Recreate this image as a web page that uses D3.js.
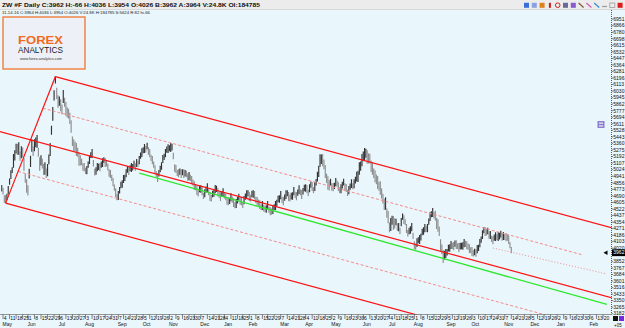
<!DOCTYPE html>
<html lang="en">
<head>
<meta charset="UTF-8">
<title>ZW #F Daily</title>
<script src="https://d3js.org/d3.v7.min.js"></script>
<style>
  body { margin: 0; background: #e9f6fc; font-family: "Liberation Sans", Arial, sans-serif; }
  svg { display: block; }
</style>
</head>
<body>
<div id="container"></div>
<script>
// ---- data ----
const headerLine1 = "ZW #F Daily C:3962 H:-66 H:4036 L:3954 O:4026 B:3962 A:3964 V:24.8K OI:184785";
const headerLine2 = "11-14-16 C:3964 H:4036 L:3954 O:4026 V:24.8K H:184785 S:5624 R:82 hi-66";

const firstBarDate = "2015-05-01";
const lastAxisDate = "2017-02-24";
const holidays = ["2015-05-25", "2015-07-03", "2015-09-07", "2015-11-26", "2015-12-25", "2016-01-01",
  "2016-01-18", "2016-02-15", "2016-03-25", "2016-05-30", "2016-07-04", "2016-09-05"];

// daily highs / lows, 01 May 2015 .. 14 Nov 2016
const barHigh = [
  4829,4793,4697,4701,4717,4814,4911,5016,5055,5223,
  5272,5355,5356,5375,5257,5325,5307,5174,4972,4903,
  4824,5036,5203,5414,5320,5414,5435,5468,5305,5184,
  5208,5164,5100,5120,5039,5095,5218,5365,5586,5824,
  6039,6215,6072,5977,5960,5926,5857,6043,5944,5888,
  5822,5803,5753,5657,5448,5414,5384,5365,5305,5248,
  5208,5164,5106,5110,5050,5070,5129,5208,5247,5287,
  5149,5036,5055,5110,5101,5108,5129,5169,5183,5172,
  5149,5100,5029,5021,4960,4916,4834,4785,4709,4750,
  4804,4870,4888,4957,4960,5031,5065,5067,5080,5108,
  5098,5139,5106,5162,5139,5198,5244,5297,5310,5351,
  5328,5369,5310,5289,5216,5198,5129,5080,5004,4980,
  5021,5075,5119,5213,5229,5287,5320,5348,5336,5364,
  5354,5241,5093,5085,5024,5031,5039,5029,5029,5031,
  5021,5011,4978,4995,4960,4942,4898,4875,4837,4814,
  4765,4819,4824,4803,4730,4775,4809,4849,4773,4737,
  4702,4755,4773,4829,4819,4788,4745,4734,4748,4788,
  4740,4717,4671,4675,4666,4724,4681,4658,4607,4648,
  4676,4717,4671,4675,4615,4686,4719,4760,4760,4737,
  4702,4755,4760,4752,4679,4673,4643,4632,4581,4622,
  4574,4563,4569,4624,4551,4545,4528,4568,4581,4622,
  4638,4691,4697,4752,4679,4673,4707,4760,4760,4737,
  4702,4729,4735,4803,4743,4737,4770,4824,4773,4763,
  4791,4832,4837,4829,4768,4839,4873,4862,4799,4865,
  4906,4997,5075,5222,5218,5223,5154,5084,4972,4941,
  4888,4908,4850,4854,4858,4916,4886,4862,4799,4839,
  4868,4908,4850,4842,4768,4814,4847,4901,4850,4903,
  4932,4997,5011,5120,5129,5223,5256,5302,5292,5274,
  5233,5228,5139,5120,5039,5018,4962,4943,4870,4877,
  4785,4716,4653,4672,4528,4494,4348,4406,4435,4430,
  4402,4397,4338,4343,4282,4405,4464,4440,4390,4328,
  4254,4282,4300,4343,4218,4110,4080,4146,4159,4187,
  4203,4269,4287,4330,4308,4328,4400,4479,4492,4533,
  4484,4499,4410,4391,4297,4135,4066,3997,3987,4008,
  4011,4064,4070,4113,4090,4098,4118,4120,4083,4085,
  4088,4090,4095,4138,4116,4110,4080,4069,4031,4034,
  3998,4013,4006,4061,4065,4136,4169,4248,4287,4290,
  4267,4282,4236,4241,4180,4174,4195,4223,4198,4226,
  4216,4243,4211,4228,4206,4213,4195,4184,4095,4036
];
const barLow = [
  4744,4708,4602,4596,4637,4709,4831,4906,4980,5048,
  5142,5230,5211,5215,5137,5170,5182,5009,4857,4728,
  4694,4911,5058,5254,5200,5259,5310,5303,5190,5009,
  5078,5039,4955,4960,4919,4940,5093,5200,5471,5649,
  5909,6126,5927,5817,5840,5771,5732,5878,5829,5713,
  5692,5678,5608,5497,5328,5259,5259,5200,5190,5073,
  5078,5079,5011,5005,4970,4965,5049,5098,5172,5172,
  5064,4951,4960,5005,5021,5003,5049,5059,5108,5057,
  5064,5015,4934,4916,4880,4811,4754,4675,4634,4635,
  4719,4785,4793,4852,4880,4926,4985,4957,5005,4993,
  5013,5054,5011,5057,5059,5093,5164,5187,5235,5236,
  5243,5284,5215,5184,5136,5093,5049,4970,4929,4865,
  4936,4990,5024,5108,5149,5182,5240,5238,5261,5249,
  5269,5156,4998,4980,4944,4926,4959,4919,4954,4916,
  4936,4926,4883,4890,4880,4837,4818,4765,4762,4699,
  4680,4734,4729,4698,4650,4670,4729,4739,4698,4622,
  4617,4670,4678,4724,4739,4683,4665,4624,4673,4673,
  4655,4632,4576,4570,4586,4619,4601,4548,4532,4533,
  4591,4632,4576,4570,4535,4581,4639,4650,4685,4622,
  4617,4670,4665,4647,4599,4568,4563,4522,4506,4507,
  4489,4478,4474,4519,4471,4440,4448,4458,4506,4507,
  4553,4606,4602,4647,4599,4568,4627,4650,4685,4622,
  4617,4644,4640,4698,4663,4632,4690,4714,4698,4648,
  4706,4747,4742,4724,4688,4734,4793,4752,4724,4750,
  4821,4872,4930,5062,5098,5068,5029,4919,4857,4766,
  4758,4823,4755,4749,4778,4811,4806,4752,4724,4724,
  4783,4823,4755,4737,4688,4709,4767,4791,4775,4788,
  4847,4872,4866,4960,5009,5068,5131,5137,5177,5099,
  5103,5103,4994,4960,4919,4863,4837,4778,4755,4702,
  4655,4591,4508,4512,4408,4339,4223,4241,4320,4255,
  4272,4312,4243,4238,4202,4300,4384,4330,4315,4213,
  4169,4197,4205,4238,4138,4005,4000,4036,4084,4072,
  4118,4184,4192,4225,4228,4223,4320,4369,4417,4418,
  4399,4374,4265,4231,4177,3980,3941,3832,3872,3893,
  3926,3979,3975,4008,4010,3993,4038,4010,4008,3970,
  4003,4005,4000,4033,4036,4005,4000,3959,3956,3919,
  3913,3928,3911,3956,3985,4031,4089,4138,4212,4175,
  4182,4197,4141,4136,4100,4069,4115,4113,4123,4111,
  4131,4158,4116,4123,4126,4108,4115,4074,4020,3954
];
const currentPrice = 3962;

// 3935 sits under the current-price tag in the reference, so it is left out
const priceTicks = [6951, 6866, 6780, 6698, 6615, 6532, 6447, 6364, 6281, 6196, 6113, 6030, 5945,
  5862, 5777, 5694, 5611, 5528, 5443, 5360, 5275, 5192, 5107, 5024, 4941, 4856, 4773, 4690, 4605,
  4522, 4437, 4354, 4271, 4186, 4103, 4020, 3852, 3767, 3684, 3601, 3516, 3433, 3350, 3265, 3182];

// pitchfork points [bar index, price]
const forkA = [-60, 5779];
const forkB = [41, 6215];
const forkC = [3, 4596];
const upperHalfEnd = 444;
const greenLine = [[105, 4981], [462, 3300]];
const dottedLine = [[375, 4022], [462, 3690]];

// ---- layout ----
const W = 625, H = 328;
const plotRight = 611.5, plotTop = 10, plotBottom = 314.5;

const svg = d3.select('#container').append('svg')
  .attr('width', W).attr('height', H);

svg.append('rect').attr('width', W).attr('height', H).attr('fill', '#e9f6fc');

// bar dates: trading days, then plain weekdays for the empty future part
const parse = d3.utcParse('%Y-%m-%d');
const fmt = d3.utcFormat('%Y-%m-%d');
const holidaySet = new Set(holidays);
const dates = [];
let day = parse(firstBarDate);
const lastDay = parse(lastAxisDate);
while (day <= lastDay) {
  const wd = day.getUTCDay();
  const isPast = dates.length < barHigh.length;
  if (wd !== 0 && wd !== 6 && !(isPast && holidaySet.has(fmt(day)))) dates.push(day);
  day = d3.utcDay.offset(day, 1);
}

const x = d3.scaleLinear().domain([0, barHigh.length - 1]).range([1.7, 511.3]);
const y = d3.scaleLinear().domain([3182, 6951]).range([313.7, 19]);

svg.append('clipPath').attr('id', 'plotClip')
  .append('rect').attr('x', 0).attr('y', plotTop).attr('width', plotRight).attr('height', plotBottom - plotTop);

// ---- price bars ----
const bars = barHigh.map((h, i) => ({ i: i, h: h, l: barLow[i] }));
svg.append('g').attr('clip-path', 'url(#plotClip)')
  .selectAll('line')
  .data(bars)
  .enter()
  .append('line')
  .attr('x1', d => x(d.i)).attr('x2', d => x(d.i))
  .attr('y1', d => y(d.h)).attr('y2', d => y(d.l))
  .attr('stroke', d => {
    if (d.i === 0) return '#444';
    const prev = bars[d.i - 1];
    return (d.h + d.l) >= (prev.h + prev.l) ? '#333' : '#8e8e8e';
  })
  .attr('stroke-width', 1.15);

// ---- pitchfork and other drawn lines ----
const lines = svg.append('g').attr('clip-path', 'url(#plotClip)').attr('fill', 'none');
const lineGen = d3.line().x(d => x(d[0])).y(d => y(d[1]));
const mid = [(forkB[0] + forkC[0]) / 2, (forkB[1] + forkC[1]) / 2];
const slope = (forkA[1] - mid[1]) / (forkA[0] - mid[0]);
const along = (p, i0, i1) => [[i0, p[1] + slope * (i0 - p[0])], [i1, p[1] + slope * (i1 - p[0])]];
const farEnd = 480;

const upperHalf = [(forkB[0] + mid[0]) / 2, (forkB[1] + mid[1]) / 2];
const lowerHalf = [(forkC[0] + mid[0]) / 2, (forkC[1] + mid[1]) / 2];

lines.append('path').attr('d', lineGen(along(upperHalf, upperHalf[0], upperHalfEnd)))
  .attr('stroke', '#f58a8a').attr('stroke-width', 1).attr('stroke-dasharray', '3,2');
lines.append('path').attr('d', lineGen(along(lowerHalf, lowerHalf[0], farEnd)))
  .attr('stroke', '#f58a8a').attr('stroke-width', 1).attr('stroke-dasharray', '3,2');
lines.append('path').attr('d', lineGen(dottedLine))
  .attr('stroke', '#f08c8c').attr('stroke-width', 1).attr('stroke-dasharray', '1,2');
lines.append('path').attr('d', lineGen(greenLine))
  .attr('stroke', '#2ee82e').attr('stroke-width', 1.3);

const red = { stroke: '#ff1010', width: 1.2 };
lines.append('path').attr('d', lineGen([forkC, forkB]))
  .attr('stroke', red.stroke).attr('stroke-width', red.width);
lines.append('path').attr('d', lineGen(along(mid, forkA[0], farEnd)))
  .attr('stroke', red.stroke).attr('stroke-width', red.width);
lines.append('path').attr('d', lineGen(along(forkB, forkB[0], farEnd)))
  .attr('stroke', red.stroke).attr('stroke-width', red.width);
lines.append('path').attr('d', lineGen(along(forkC, forkC[0], farEnd)))
  .attr('stroke', red.stroke).attr('stroke-width', red.width);

// ---- price axis ----
svg.append('line')
  .attr('x1', plotRight).attr('x2', plotRight).attr('y1', plotTop).attr('y2', plotBottom)
  .attr('stroke', '#333').attr('stroke-width', 0.8).attr('stroke-dasharray', '1,1');

const yAxis = svg.append('g');
yAxis.selectAll('line')
  .data(priceTicks)
  .enter()
  .append('line')
  .attr('x1', plotRight).attr('x2', plotRight + 1.5)
  .attr('y1', d => y(d)).attr('y2', d => y(d))
  .attr('stroke', '#333').attr('stroke-width', 0.6);
yAxis.selectAll('text')
  .data(priceTicks)
  .enter()
  .append('text')
  .attr('x', plotRight + 1.8)
  .attr('y', d => y(d))
  .attr('dy', '0.35em')
  .attr('font-size', 5)
  .attr('fill', '#111')
  .text(d => d);

// current price tag
const cy = y(currentPrice);
svg.append('rect').attr('x', plotRight + 0.5).attr('y', cy - 3.4).attr('width', W - plotRight).attr('height', 6.8).attr('fill', '#000');
svg.append('text').attr('x', plotRight + 1.8).attr('y', cy).attr('dy', '0.35em')
  .attr('font-size', 5).attr('fill', '#fff').text(currentPrice);
svg.append('path')
  .attr('d', `M${plotRight - 8},${cy} L${plotRight - 4},${cy - 2.2} L${plotRight - 4},${cy + 2.2} Z`)
  .attr('fill', '#000');

// small indicator icon on the right
svg.append('rect').attr('x', 597.5).attr('y', 121).attr('width', 7).attr('height', 7).attr('fill', '#8b7fd0');
svg.append('rect').attr('x', 599).attr('y', 122.5).attr('width', 4).attr('height', 1.3).attr('fill', '#e6e2f7');
svg.append('rect').attr('x', 599).attr('y', 125.3).attr('width', 4).attr('height', 1.3).attr('fill', '#e6e2f7');

// ---- time axis ----
svg.append('line')
  .attr('x1', 0).attr('x2', plotRight).attr('y1', plotBottom).attr('y2', plotBottom)
  .attr('stroke', '#555').attr('stroke-width', 0.6);

const mondays = d3.utcMonday.range(parse('2015-05-04'), d3.utcDay.offset(lastDay, -3));
const bisect = d3.bisector(d => d).left;
const ticks = mondays.map(m => ({ m: m, i: bisect(dates, m) }));

const xAxis = svg.append('g').attr('font-size', 5).attr('fill', '#111');
xAxis.selectAll('line')
  .data(ticks)
  .enter()
  .append('line')
  .attr('x1', d => x(d.i)).attr('x2', d => x(d.i))
  .attr('y1', plotBottom).attr('y2', plotBottom + 4.5)
  .attr('stroke', '#333').attr('stroke-width', 0.6);
xAxis.selectAll('.day')
  .data(ticks)
  .enter()
  .append('text')
  .attr('class', 'day')
  .attr('x', d => x(d.i) + 0.8)
  .attr('y', plotBottom + 5)
  .text(d => d.m.getUTCDate());
xAxis.selectAll('.month')
  .data(ticks.filter(d => d.m.getUTCDate() <= 7))
  .enter()
  .append('text')
  .attr('class', 'month')
  .attr('x', d => x(d.i) - 0.5)
  .attr('y', plotBottom + 11.5)
  .text(d => d3.utcFormat('%b')(d.m));

svg.append('rect').attr('x', 613).attr('y', 316).attr('width', 5).attr('height', 5).attr('fill', '#111');
svg.append('rect').attr('x', 619).attr('y', 316).attr('width', 5).attr('height', 5).attr('fill', '#7a2ad8');
svg.append('text').attr('x', 614).attr('y', 327).attr('font-size', 4.5).attr('fill', '#111').text('+05');

// ---- title bar and info line ----
svg.append('rect').attr('width', W).attr('height', 9.5).attr('fill', '#ececec');
svg.append('line').attr('x1', 0).attr('x2', W).attr('y1', 9.5).attr('y2', 9.5).attr('stroke', '#c8c8c8').attr('stroke-width', 0.6);
svg.append('text').attr('x', 2).attr('y', 7).attr('font-size', 5.6).attr('font-weight', 700)
  .attr('fill', '#111').attr('textLength', 258).attr('lengthAdjust', 'spacingAndGlyphs').text(headerLine1);
svg.append('text').attr('x', 2).attr('y', 14).attr('font-size', 4.4)
  .attr('fill', '#222').attr('textLength', 148).attr('lengthAdjust', 'spacingAndGlyphs').text(headerLine2);

// toolbar icons
const iconColors = ['#3a6fd8', '#8aa0e0', '#e0801a', '#d01a1a', '#d42020', '#6a6a9a', '#8a5ad0', '#7a5a2a', '#d05ab0', '#3a8ad0', '#9a9a9a', '#9a9a9a', '#e01a1a'];
const icons = svg.append('g');
iconColors.forEach((c, k) => {
  const ix = 524 + k * 7.8;
  if (k === 7 || k === 8 || k === 9) {
    icons.append('line').attr('x1', ix).attr('y1', 3).attr('x2', ix + 5).attr('y2', 7.5).attr('stroke', c).attr('stroke-width', 1.2);
  } else if (k === 10) {
    icons.append('line').attr('x1', ix).attr('y1', 6.5).attr('x2', ix + 5).attr('y2', 6.5).attr('stroke', c).attr('stroke-width', 1.2);
  } else if (k === 11) {
    icons.append('rect').attr('x', ix).attr('y', 3).attr('width', 5).attr('height', 4.5).attr('fill', 'none').attr('stroke', c).attr('stroke-width', 0.8);
  } else if (k === 4) {
    icons.append('circle').attr('cx', ix + 2.5).attr('cy', 5.2).attr('r', 2.3).attr('fill', 'none').attr('stroke', c).attr('stroke-width', 1);
  } else {
    icons.append('rect').attr('x', ix + (k === 3 ? 1.5 : 0)).attr('y', 2.8).attr('width', k === 3 ? 2 : 5).attr('height', 5).attr('fill', c);
  }
});

// ---- logo ----
const logo = svg.append('g');
logo.append('rect').attr('x', 3).attr('y', 17).attr('width', 82).attr('height', 52)
  .attr('fill', '#edf0f7').attr('stroke', '#f26a1b').attr('stroke-width', 1.2);
logo.append('text').attr('x', 18).attr('y', 43.5).attr('font-size', 11.5).attr('font-weight', 700)
  .attr('fill', '#f26a1b').attr('textLength', 45).attr('lengthAdjust', 'spacingAndGlyphs').text('FOREX');
logo.append('text').attr('x', 18).attr('y', 52.5).attr('font-size', 8.3)
  .attr('fill', '#222').attr('textLength', 45).attr('lengthAdjust', 'spacingAndGlyphs').text('ANALYTICS');
logo.append('text').attr('x', 20).attr('y', 59.5).attr('font-size', 3.4)
  .attr('fill', '#333').attr('textLength', 42).attr('lengthAdjust', 'spacingAndGlyphs').text('www.forex-analytics.com');
</script>
</body>
</html>
